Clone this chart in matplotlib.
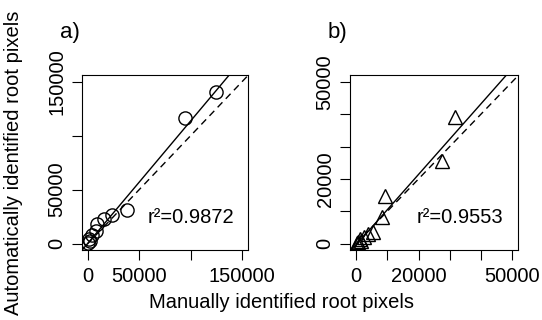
import numpy as np
import matplotlib.pyplot as plt

plt.rcParams['font.family'] = ['Liberation Sans', 'DejaVu Sans']

# a) circles
xa = [124760, 95070, 38300, 23790, 15760, 9280, 7740, 4450, 1260, 300, 2500]
ya = [140260, 116730, 31530, 26930, 22330, 17740, 11580, 7630, 3950, 900, 2000]
fit_a = (1.134, 250)
r2_a = 'r²=0.9872'

# b) triangles
xb = [31700, 27600, 9350, 8270, 5360, 3740, 2450, 1060, 1600, 500, 200]
yb = [39000, 25470, 14770, 8260, 3550, 2840, 2140, 1310, 800, 400, 100]
fit_b = (1.09, -400)
r2_b = 'r²=0.9553'

ticks_a = [0, 50000, 100000, 150000]
labels_a = ['0', '50000', '', '150000']
ticks_b = [0, 10000, 20000, 30000, 40000, 50000]
labels_b = ['0', '', '20000', '', '', '50000']

fs = 14.5

fig = plt.figure(figsize=(5.42, 3.2), dpi=100)
ax1 = fig.add_axes([0.1507, 0.21875, 0.3069, 0.5455])
ax2 = fig.add_axes([0.6458, 0.21875, 0.3105, 0.5455])

def panel(ax, x, y, marker, ms, fit, lim, ticks, labels, r2, r2pos):
    ax.plot(x, y, linestyle='none', marker=marker, ms=ms, mfc='none',
            mec='black', mew=1.0)
    xx = np.array([lim[0] - lim[1], 2 * lim[1]])
    ax.plot(xx, fit[0] * xx + fit[1], color='black', lw=1.0)
    ax.plot(xx, xx, color='black', lw=1.0, dashes=(5, 3.5))
    ax.set_xlim(lim)
    ax.set_ylim(lim)
    ax.set_xticks(ticks)
    ax.set_xticklabels(labels)
    ax.set_yticks(ticks)
    ax.set_yticklabels(labels, rotation=90, va='center')
    ax.tick_params(direction='out', length=7, width=0.8, labelsize=fs)
    ax.tick_params(axis='x', pad=5)
    ax.tick_params(axis='y', pad=4)
    for s in ax.spines.values():
        s.set_linewidth(0.8)
    ax.text(r2pos[0], r2pos[1], r2, fontsize=fs, ha='center', va='center')

panel(ax1, xa, ya, 'o', 9.5, fit_a, (-6000, 156000), ticks_a, labels_a, r2_a, (100000, 24200))
panel(ax2, xb, yb, '^', 10.5, fit_b, (-2000, 52000), ticks_b, labels_b, r2_b, (33200, 8040))

fig.text(0.111, 0.897, 'a)', fontsize=16, ha='left', va='center')
fig.text(0.605, 0.897, 'b)', fontsize=16, ha='left', va='center')
fig.text(0.024, 0.49, 'Automatically identified root pixels', fontsize=fs,
         rotation=90, ha='center', va='center')
fig.text(0.52, 0.056, 'Manually identified root pixels', fontsize=fs,
         ha='center', va='center')

fig.savefig('out.png', dpi=100)
